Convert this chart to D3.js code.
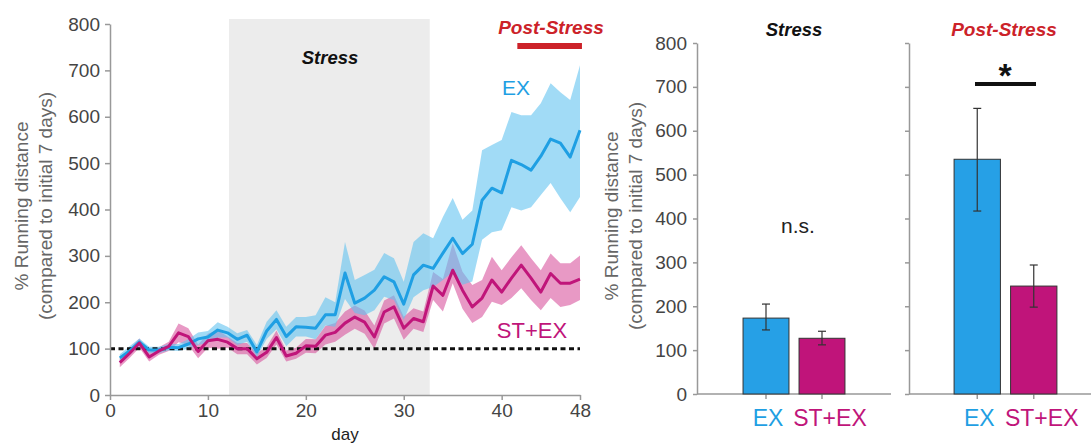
<!DOCTYPE html>
<html>
<head>
<meta charset="utf-8">
<script src="https://cdn.jsdelivr.net/npm/d3@7"></script>
<style>
  body { margin: 0; background: #fff; }
  svg { display: block; font-family: Arial, "Liberation Sans", sans-serif; }
  .axis path, .axis line { stroke: #999; stroke-width: 1.5; }
  .axis text { fill: #444; font-size: 19px; }
</style>
</head>
<body>
<svg id="chart" width="1091" height="443"></svg>
<script>
// ---------- Data ----------
const days = d3.range(1, 49);
const exMean  = [80,95,114,97,97,103,102,110,121,125,140,134,120,129,93,138,163,126,147,146,144,173,173,263,198,209,226,255,244,196,259,280,273,306,338,305,325,420,446,436,506,497,485,515,552,543,513,571];
const exUpper = [88,105,122,104,104,110,110,120,135,138,157,147,133,140,108,158,183,147,168,168,172,211,200,330,248,259,270,306,295,244,330,349,338,384,425,378,398,528,539,550,610,603,603,629,672,653,636,711];
const exLower = [72,86,106,90,90,96,95,100,108,112,124,124,108,115,82,121,142,105,126,126,120,150,147,207,177,172,183,212,205,162,211,226,233,248,265,238,245,335,351,355,405,398,405,431,457,424,394,427];
const stMean  = [70,90,112,82,95,105,134,126,94,117,120,114,100,100,78,92,124,84,90,106,105,129,135,155,168,157,125,179,190,144,165,158,235,215,269,226,190,209,248,222,252,280,252,222,262,241,241,250];
const stUpper = [80,100,122,92,103,115,154,144,109,132,140,126,112,112,90,104,139,96,102,121,120,149,155,180,193,182,150,204,215,169,187,180,265,250,327,266,237,248,298,269,297,323,295,269,305,284,284,301];
const stLower = [60,80,102,72,87,95,114,108,79,102,100,102,88,88,66,80,109,72,78,91,90,109,115,130,143,132,100,154,165,119,143,136,205,180,241,186,155,168,201,194,209,230,205,183,209,190,194,205];

const xTicks = [0, 10, 20, 30, 40, 48];
const yTicks = [0, 100, 200, 300, 400, 500, 600, 700, 800];
const stressDays = [12.15, 32.65];
const postDays = [41.6, 48.2];
const baseline = 100;

const groups = ["EX", "ST+EX"];
const stressBars = [173, 127];
const stressErrLo = [146, 112];
const stressErrHi = [205, 143];
const postBars = [535, 246];
const postErrLo = [417, 198];
const postErrHi = [651, 294];

const BLUE = "#1f9fe3", PINK = "#c0157a";
const BLUE_BAND = "#62c3f0", PINK_BAND = "#d9559f";
const RED = "#cc2229";

const svg = d3.select("#chart");

// ---------- Left: time course ----------
const x = d3.scaleLinear().domain([0, 48]).range([110, 580]);
const y = d3.scaleLinear().domain([0, 800]).range([395, 24]);

svg.append("rect")
  .attr("x", x(stressDays[0])).attr("y", 19)
  .attr("width", x(stressDays[1]) - x(stressDays[0]))
  .attr("height", y(0) - 19)
  .attr("fill", "#ececec");

const area = (lo, hi) => d3.area()
  .x((d, i) => x(days[i])).y0((d, i) => y(lo[i])).y1((d, i) => y(hi[i]));
const line = vals => d3.line().x((d, i) => x(days[i])).y((d, i) => y(vals[i]));

svg.append("path").datum(days).attr("d", area(stLower, stUpper))
  .attr("fill", PINK_BAND).attr("fill-opacity", 0.6);
svg.append("path").datum(days).attr("d", area(exLower, exUpper))
  .attr("fill", BLUE_BAND).attr("fill-opacity", 0.6);

svg.append("line")
  .attr("x1", x(0)).attr("x2", x(48)).attr("y1", y(baseline)).attr("y2", y(baseline))
  .attr("stroke", "#111").attr("stroke-width", 3).attr("stroke-dasharray", "5,3.5");

svg.append("path").datum(days).attr("d", line(exMean))
  .attr("fill", "none").attr("stroke", BLUE).attr("stroke-width", 3).attr("stroke-linejoin", "round");
svg.append("path").datum(days).attr("d", line(stMean))
  .attr("fill", "none").attr("stroke", PINK).attr("stroke-width", 3).attr("stroke-linejoin", "round");

svg.append("g").attr("class", "axis").attr("transform", `translate(0,${y(0)})`)
  .call(d3.axisBottom(x).tickValues(xTicks).tickSize(5).tickSizeOuter(0).tickPadding(4))
  .selectAll("text").attr("fill", "#222").attr("font-size", 20);
svg.append("g").attr("class", "axis").attr("transform", `translate(${x(0)},0)`)
  .call(d3.axisLeft(y).tickValues(yTicks).tickSize(5).tickSizeOuter(0).tickPadding(5));

svg.append("text").attr("x", 345).attr("y", 440).attr("text-anchor", "middle")
  .attr("font-size", 17).attr("fill", "#222").text("day");

function yLabel(cx, cy) {
  const t = svg.append("text").attr("transform", `translate(${cx},${cy}) rotate(-90)`)
    .attr("text-anchor", "middle").attr("font-size", 19).attr("fill", "#666");
  t.append("tspan").attr("x", 0).attr("dy", 0).text("% Running distance");
  t.append("tspan").attr("x", 0).attr("dy", 24).text("(compared to initial 7 days)");
}
yLabel(28, 206);

svg.append("text").attr("x", 330).attr("y", 64).attr("text-anchor", "middle")
  .attr("font-size", 18.5).attr("font-weight", "bold").attr("font-style", "italic")
  .attr("fill", "#111").text("Stress");
svg.append("text").attr("x", 551).attr("y", 34).attr("text-anchor", "middle")
  .attr("font-size", 19).attr("font-weight", "bold").attr("font-style", "italic")
  .attr("fill", RED).text("Post-Stress");
svg.append("line").attr("x1", x(postDays[0])).attr("x2", x(postDays[1]))
  .attr("y1", 46).attr("y2", 46).attr("stroke", RED).attr("stroke-width", 6);

svg.append("text").attr("x", 516).attr("y", 95).attr("text-anchor", "middle")
  .attr("font-size", 21).attr("fill", BLUE).text("EX");
svg.append("text").attr("x", 532).attr("y", 338).attr("text-anchor", "middle")
  .attr("font-size", 22).attr("fill", PINK).text("ST+EX");

// ---------- Right: bar panels ----------
const yb = d3.scaleLinear().domain([0, 800]).range([394, 43]);

function barPanel(axisX, axisEnd, bandRange, vals, lo, hi, labels) {
  const xb = d3.scaleBand().domain(groups).range(bandRange).paddingInner(0.18).paddingOuter(0.09);
  const ax = svg.append("g").attr("class", "axis").attr("transform", `translate(${axisX},0)`)
    .call(d3.axisLeft(yb).tickValues(yTicks).tickSize(4).tickSizeOuter(0).tickPadding(6));
  if (!labels) ax.selectAll("text").remove();
  else ax.selectAll("text").attr("fill", "#555");

  svg.append("line").attr("x1", axisX).attr("x2", axisEnd).attr("y1", yb(0)).attr("y2", yb(0))
    .attr("stroke", "#999").attr("stroke-width", 1.5);

  groups.forEach((g, i) => {
    const cx = xb(g) + xb.bandwidth() / 2;
    svg.append("line").attr("x1", cx).attr("x2", cx).attr("y1", yb(0)).attr("y2", yb(0) + 5)
      .attr("stroke", "#999").attr("stroke-width", 1.5);
    svg.append("rect").attr("x", xb(g)).attr("y", yb(vals[i]))
      .attr("width", xb.bandwidth()).attr("height", yb(0) - yb(vals[i]))
      .attr("fill", i === 0 ? "#26a0e6" : "#c0147a").attr("stroke", "#333").attr("stroke-width", 1);
    svg.append("line").attr("x1", cx).attr("x2", cx).attr("y1", yb(lo[i])).attr("y2", yb(hi[i]))
      .attr("stroke", "#333").attr("stroke-width", 1.2);
    [lo[i], hi[i]].forEach(v => svg.append("line")
      .attr("x1", cx - 4).attr("x2", cx + 4).attr("y1", yb(v)).attr("y2", yb(v))
      .attr("stroke", "#333").attr("stroke-width", 1.2));
    svg.append("text").attr("x", cx + (i === 0 ? 2 : 8)).attr("y", 426).attr("text-anchor", "middle")
      .attr("font-size", 23).attr("fill", i === 0 ? BLUE : PINK).text(g);
  });
  return xb;
}

barPanel(697, 891, [738, 850], stressBars, stressErrLo, stressErrHi, true);
barPanel(909, 1091, [949, 1062], postBars, postErrLo, postErrHi, false);

yLabel(618, 216);

svg.append("text").attr("x", 794).attr("y", 36).attr("text-anchor", "middle")
  .attr("font-size", 18.5).attr("font-weight", "bold").attr("font-style", "italic")
  .attr("fill", "#111").text("Stress");
svg.append("text").attr("x", 1004).attr("y", 36).attr("text-anchor", "middle")
  .attr("font-size", 19).attr("font-weight", "bold").attr("font-style", "italic")
  .attr("fill", RED).text("Post-Stress");

svg.append("text").attr("x", 798).attr("y", 233).attr("text-anchor", "middle")
  .attr("font-size", 21).attr("fill", "#222").text("n.s.");

svg.append("line").attr("x1", 975).attr("x2", 1036).attr("y1", 84).attr("y2", 84)
  .attr("stroke", "#111").attr("stroke-width", 4);
svg.append("text").attr("x", 1005).attr("y", 87).attr("text-anchor", "middle")
  .attr("font-size", 34).attr("font-weight", "bold").attr("fill", "#111").text("*");
</script>
</body>
</html>
